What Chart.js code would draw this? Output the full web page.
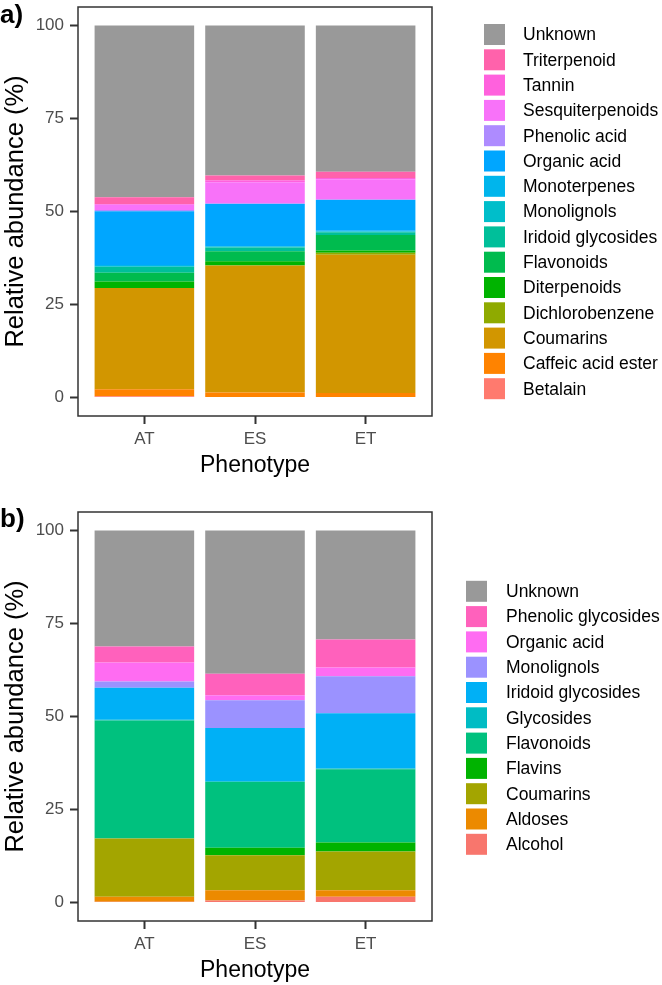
<!DOCTYPE html>
<html><head><meta charset="utf-8">
<script src="https://cdn.jsdelivr.net/npm/chart.js@4.4.0/dist/chart.umd.min.js"></script>
<style>
html,body{margin:0;padding:0;background:#fff;width:662px;height:985px;overflow:hidden;}
canvas{position:absolute;left:0;}
#ca{top:0;}
#cb{top:505px;}
</style></head><body>
<canvas id="ca" width="662" height="480"></canvas>
<canvas id="cb" width="662" height="480"></canvas>
<script>
// ---------- data ----------
const phenotypes = ['AT', 'ES', 'ET'];
const yTicks = [0, 25, 50, 75, 100];

// Panel a) classes (stack order bottom -> top), values for AT, ES, ET
const aClasses = ['Betalain','Caffeic acid ester','Coumarins','Dichlorobenzene','Diterpenoids','Flavonoids','Iridoid glycosides','Monolignols','Monoterpenes','Organic acid','Phenolic acid','Sesquiterpenoids','Tannin','Triterpenoid','Unknown'];
const a_Betalain          = [0.3, 0.1, 0.1];
const a_CaffeicAcidEster  = [1.9, 1.2, 1.1];
const a_Coumarins         = [27.2, 34.2, 37.2];
const a_Dichlorobenzene   = [0.0, 0.0, 0.5];
const a_Diterpenoids      = [1.8, 1.1, 0.6];
const a_Flavonoids        = [2.3, 2.7, 4.2];
const a_IridoidGlycosides = [1.6, 1.0, 0.7];
const a_Monolignols       = [0.2, 0.2, 0.2];
const a_Monoterpenes      = [0.3, 0.2, 0.2];
const a_OrganicAcid       = [14.5, 11.3, 8.3];
const a_PhenolicAcid      = [0.3, 0.2, 0.2];
const a_Sesquiterpenoids  = [1.4, 5.7, 5.4];
const a_Tannin            = [0.2, 0.5, 0.3];
const a_Triterpenoid      = [1.8, 1.3, 1.7];
const a_Unknown           = [46.2, 40.3, 39.3];
const aSeries = [a_Betalain, a_CaffeicAcidEster, a_Coumarins, a_Dichlorobenzene, a_Diterpenoids, a_Flavonoids, a_IridoidGlycosides, a_Monolignols, a_Monoterpenes, a_OrganicAcid, a_PhenolicAcid, a_Sesquiterpenoids, a_Tannin, a_Triterpenoid, a_Unknown];

// Panel b) classes (stack order bottom -> top)
const bClasses = ['Alcohol','Aldoses','Coumarins','Flavins','Flavonoids','Glycosides','Iridoid glycosides','Monolignols','Organic acid','Phenolic glycosides','Unknown'];
const b_Alcohol            = [0.2, 0.5, 1.5];
const b_Aldoses            = [1.3, 2.8, 1.8];
const b_Coumarins          = [15.7, 9.4, 10.4];
const b_Flavins            = [0.0, 2.0, 2.4];
const b_Flavonoids         = [31.7, 17.7, 19.7];
const b_Glycosides         = [0.2, 0.2, 0.2];
const b_IridoidGlycosides  = [8.6, 14.3, 14.9];
const b_Monolignols        = [1.7, 7.5, 9.9];
const b_OrganicAcid        = [5.1, 1.3, 2.4];
const b_PhenolicGlycosides = [4.3, 5.8, 7.5];
const b_Unknown            = [31.2, 38.5, 29.3];
const bSeries = [b_Alcohol, b_Aldoses, b_Coumarins, b_Flavins, b_Flavonoids, b_Glycosides, b_IridoidGlycosides, b_Monolignols, b_OrganicAcid, b_PhenolicGlycosides, b_Unknown];

// ---------- styles ----------
const aColors = ['#FF7A6E','#FF8300','#D29600','#8FAA00','#00B300','#00BB4E','#00BF9A','#00BECA','#00B5EC','#00A6FF','#AE8BFF','#F872F9','#FF61DD','#FF62AB','#999999'];
const bColors = ['#F8766D','#EC8A00','#A3A500','#00B300','#00C17E','#00BCC4','#00B0F6','#9B92FF','#FF6CF2','#FF61BC','#999999'];

const FONT = "'Liberation Sans', Arial, sans-serif";

const framePlugin = {
  id: 'frame',
  afterDatasetsDraw(chart) {
    const a = chart.chartArea, ctx = chart.ctx;
    ctx.save();
    ctx.strokeStyle = '#333333';
    ctx.lineWidth = 1.5;
    ctx.strokeRect(a.left, a.top, a.right - a.left, a.bottom - a.top);
    ctx.restore();
  }
};

const legendPlugin = {
  id: 'ggLegend',
  afterDraw(chart, args, opts) {
    const ctx = chart.ctx;
    const ds = chart.data.datasets;
    ctx.save();
    ctx.font = opts.fontSize + 'px ' + FONT;
    ctx.textBaseline = 'middle';
    ctx.textAlign = 'left';
    let y = opts.y0;
    for (let i = ds.length - 1; i >= 0; i--) {
      ctx.fillStyle = ds[i].backgroundColor;
      ctx.fillRect(opts.keyX, y - opts.key / 2, opts.key, opts.key);
      ctx.fillStyle = '#000000';
      ctx.fillText(ds[i].label, opts.textX, y + 1);
      y += opts.pitch;
    }
    // panel tag
    ctx.font = 'bold ' + opts.tagSize + 'px ' + FONT;
    ctx.textBaseline = 'alphabetic';
    ctx.fillText(opts.tag, 0, opts.tagY);
    ctx.restore();
  }
};

function makeChart(id, classes, series, colors, legendOpts) {
  const datasets = classes.map((c, k) => ({
    label: c,
    data: phenotypes.map((p, i) => ({ x: i + 1, y: series[k][i] })),
    backgroundColor: colors[k],
    borderWidth: 0,
    barPercentage: 0.9,
    categoryPercentage: 1.0
  }));
  return new Chart(document.getElementById(id), {
    type: 'bar',
    data: { datasets },
    plugins: [framePlugin, legendPlugin],
    options: {
      responsive: false,
      animation: false,
      layout: { padding: { left: 0, right: 230, top: 7, bottom: 0 } },
      plugins: {
        legend: { display: false },
        tooltip: { enabled: false },
        ggLegend: legendOpts
      },
      scales: {
        x: {
          type: 'linear', min: 0.4, max: 3.6, stacked: true, offset: false,
          afterBuildTicks: s => { s.ticks = phenotypes.map((p, i) => ({ value: i + 1 })); },
          afterFit: s => { s.height = 64; s.paddingLeft = 0; s.paddingRight = 0; },
          ticks: { autoSkip: false, maxRotation: 0, padding: 5, color: '#4D4D4D',
                   font: { family: FONT, size: 17 },
                   callback: v => phenotypes[Math.round(v) - 1] },
          grid: { display: true, offset: false, drawOnChartArea: false, drawTicks: true, tickLength: 8,
                  tickColor: '#333333', tickWidth: 2 },
          border: { display: false },
          title: { display: true, text: 'Phenotype', color: '#000000',
                   font: { family: FONT, size: 23 }, padding: { top: 0, bottom: 1 } }
        },
        y: {
          type: 'linear', min: -5, max: 105, stacked: true,
          afterBuildTicks: s => { s.ticks = yTicks.map(v => ({ value: v })); },
          afterFit: s => { s.width = 78; s.paddingTop = 0; s.paddingBottom = 0; },
          ticks: { padding: 6, color: '#4D4D4D', font: { family: FONT, size: 17 } },
          grid: { display: true, drawOnChartArea: false, drawTicks: true, tickLength: 8,
                  tickColor: '#333333', tickWidth: 2 },
          border: { display: false },
          title: { display: true, text: 'Relative abundance (%)', color: '#000000',
                   font: { family: FONT, size: 25.5 }, padding: { top: 1, bottom: 0 } }
        }
      }
    }
  });
}

makeChart('ca', aClasses, aSeries, aColors,
  { keyX: 484, textX: 523, y0: 34.5, pitch: 25.3, key: 21, fontSize: 17.5, tag: 'a)', tagY: 23, tagSize: 26 });
makeChart('cb', bClasses, bSeries, bColors,
  { keyX: 466, textX: 506, y0: 86.3, pitch: 25.3, key: 21, fontSize: 17.5, tag: 'b)', tagY: 22, tagSize: 26 });
</script>
</body></html>
